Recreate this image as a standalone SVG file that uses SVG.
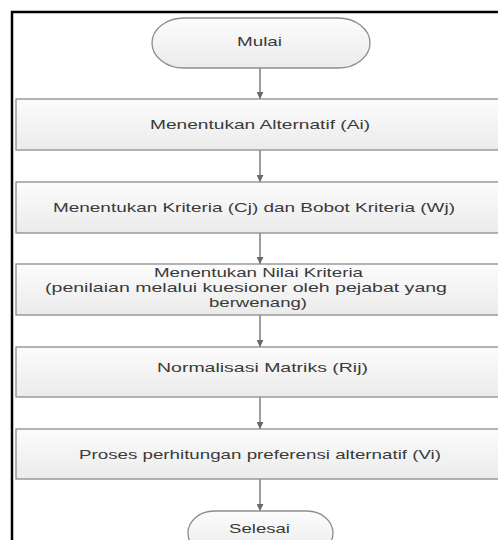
<svg xmlns="http://www.w3.org/2000/svg" width="498" height="540" viewBox="0 0 498 540">
<defs>
<linearGradient id="g" x1="0" y1="0" x2="0" y2="1">
<stop offset="0" stop-color="#fcfcfc"/>
<stop offset="1" stop-color="#ebebeb"/>
</linearGradient>
<marker id="ah" viewBox="0 0 10 10" refX="10" refY="5" markerWidth="7" markerHeight="7" markerUnits="userSpaceOnUse" orient="auto">
<path d="M0,0 L10,5 L0,10 z" fill="#6a6a6a"/>
</marker>
</defs>
<style>
.shape{fill:url(#g);stroke:#8c8c8c;stroke-width:1.3}
.t{font-family:"Liberation Sans",Arial,sans-serif;font-size:13px;fill:#3a3a3a}
.c{stroke:#6a6a6a;stroke-width:1.3;fill:none;marker-end:url(#ah)}
</style>
<rect x="0" y="0" width="498" height="540" fill="#ffffff"/>
<rect x="12" y="12" width="600" height="600" fill="none" stroke="#000" stroke-width="2.5"/>
<g id="connectors">
<line class="c" x1="260" y1="68" x2="260" y2="99"/>
<line class="c" x1="260" y1="150" x2="260" y2="182"/>
<line class="c" x1="260" y1="233" x2="260" y2="264"/>
<line class="c" x1="260" y1="315" x2="260" y2="347"/>
<line class="c" x1="260" y1="397" x2="260" y2="429"/>
<line class="c" x1="260" y1="479" x2="260" y2="511"/>
</g>
<g id="mulai">
<rect class="shape" x="152" y="18" width="218" height="50" rx="32" ry="25"/>
<text class="t" x="237" y="46" textLength="45" lengthAdjust="spacingAndGlyphs">Mulai</text>
</g>
<g id="alternatif">
<rect class="shape" x="16" y="99" width="490" height="51"/>
<text class="t" x="150" y="129" textLength="220" lengthAdjust="spacingAndGlyphs">Menentukan Alternatif (Ai)</text>
</g>
<g id="kriteria">
<rect class="shape" x="16" y="182" width="490" height="51"/>
<text class="t" x="53" y="212" textLength="402" lengthAdjust="spacingAndGlyphs">Menentukan Kriteria (Cj) dan Bobot Kriteria (Wj)</text>
</g>
<g id="nilai">
<rect class="shape" x="16" y="264" width="490" height="51"/>
<text class="t" x="154" y="277" textLength="209" lengthAdjust="spacingAndGlyphs">Menentukan Nilai Kriteria</text>
<text class="t" x="45" y="292" textLength="402" lengthAdjust="spacingAndGlyphs">(penilaian melalui kuesioner oleh pejabat yang</text>
<text class="t" x="209" y="307" textLength="98" lengthAdjust="spacingAndGlyphs">berwenang)</text>
</g>
<g id="normalisasi">
<rect class="shape" x="16" y="347" width="490" height="50"/>
<text class="t" x="157" y="372" textLength="211" lengthAdjust="spacingAndGlyphs">Normalisasi Matriks (Rij)</text>
</g>
<g id="proses">
<rect class="shape" x="16" y="429" width="490" height="50"/>
<text class="t" x="79" y="459" textLength="362" lengthAdjust="spacingAndGlyphs">Proses perhitungan preferensi alternatif (Vi)</text>
</g>
<g id="selesai">
<rect class="shape" x="188" y="511" width="145" height="44" rx="26" ry="22"/>
<text class="t" x="229" y="533" textLength="61" lengthAdjust="spacingAndGlyphs">Selesai</text>
</g>
</svg>
